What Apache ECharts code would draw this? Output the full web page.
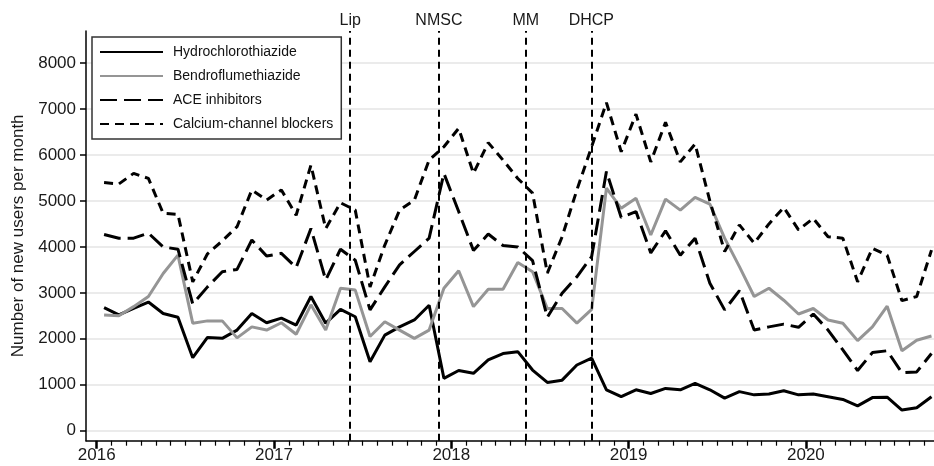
<!DOCTYPE html>
<html>
<head>
<meta charset="utf-8">
<script src="https://cdn.jsdelivr.net/npm/echarts@6/dist/echarts.min.js"></script>
<style>
html,body{margin:0;padding:0;background:#fff;}
#chart{width:934px;height:466px;}
</style>
</head>
<body>
<div id="chart"></div>
<script>
// Monthly data, Jan 2016 .. Sep 2020 (57 months), plotted at mid-month
const startYear = 2016;
const nMonths = 57;
const seriesNames = ['Hydrochlorothiazide', 'Bendroflumethiazide', 'ACE inhibitors', 'Calcium-channel blockers'];
const hctz = [2680,2520,2660,2800,2550,2470,1590,2030,2010,2190,2550,2350,2450,2300,2920,2340,2640,2480,1500,2080,2260,2410,2730,1140,1310,1250,1540,1680,1720,1320,1050,1100,1430,1580,890,740,890,810,920,890,1030,890,710,850,780,800,870,780,800,740,680,540,720,730,450,500,740];
const bftz = [2520,2500,2700,2920,3420,3820,2340,2390,2390,2020,2260,2190,2350,2100,2740,2190,3100,3060,2050,2370,2190,2010,2190,3100,3480,2700,3080,3080,3660,3460,2660,2660,2340,2640,5280,4840,5060,4260,5040,4800,5080,4930,4190,3570,2920,3100,2840,2540,2660,2410,2340,1960,2260,2710,1740,1970,2060];
const ace = [4270,4190,4190,4300,4000,3950,2760,3130,3460,3510,4150,3800,3860,3550,4400,3280,3950,3710,2630,3130,3610,3900,4190,5600,4770,3920,4280,4030,4000,3700,2470,2990,3350,3790,5640,4640,4770,3870,4350,3820,4190,3210,2630,3050,2190,2260,2320,2250,2540,2190,1760,1310,1700,1740,1260,1280,1680];
const ccb = [5400,5370,5600,5490,4730,4710,3240,3850,4130,4440,5240,5020,5240,4690,5780,4400,4960,4800,3130,4040,4800,5020,5890,6180,6580,5600,6270,5890,5490,5170,3430,4220,5240,6180,7140,6070,6890,5850,6710,5850,6240,5000,3900,4480,4080,4500,4860,4370,4620,4220,4190,3240,3970,3820,2830,2920,3930];
const yearTicks = [2016, 2017, 2018, 2019, 2020];
const yTicks = [0, 1000, 2000, 3000, 4000, 5000, 6000, 7000, 8000];
const eventNames = ['Lip', 'NMSC', 'MM', 'DHCP'];
const eventDates = [2017.4286, 2017.9266, 2018.4154, 2018.7914];

const monthX = [];
for (let i = 0; i < nMonths; i++) monthX.push(startYear + (i + 0.5) / 12);
const monthTicks = [];
for (let k = 1; k < 60; k++) if (k % 12 !== 0) monthTicks.push(startYear + k / 12);

const FONT = 'Liberation Sans, Arial, sans-serif';
const xMin = 2015.9397, xMax = 2020.7225;
const colors = ['#000000', '#959595', '#000000', '#000000'];
const dashes = ['solid', 'solid', [17, 7], [9, 6]];
const values = [hctz, bftz, ace, ccb];

const series = seriesNames.map((name, s) => ({
  name: name,
  type: 'line',
  xAxisIndex: 0,
  yAxisIndex: 0,
  symbol: 'none',
  data: monthX.map((x, i) => [x, values[s][i]]),
  lineStyle: { color: colors[s], width: 3, type: dashes[s] },
  itemStyle: { color: colors[s] },
  z: 3 + s
}));
series[0].markLine = {
  silent: true,
  symbol: ['none', 'none'],
  animation: false,
  lineStyle: { color: '#000', width: 2, type: [7, 5] },
  label: { show: true, position: 'end', formatter: '{b}', fontFamily: FONT, fontSize: 16, color: '#1a1a1a', distance: 2 },
  data: eventNames.map((n, i) => ({ name: n, xAxis: eventDates[i] }))
};

const chart = echarts.init(document.getElementById('chart'), null, { renderer: 'canvas' });
chart.setOption({
  animation: false,
  backgroundColor: '#ffffff',
  textStyle: { fontFamily: FONT },
  grid: { left: 86, right: 0, top: 31, bottom: 25.3, containLabel: false },
  legend: {
    orient: 'vertical',
    left: 92, top: 37,
    itemWidth: 63, itemHeight: 14, itemGap: 10,
    padding: [8, 8, 8, 7],
    backgroundColor: '#ffffff',
    borderColor: '#333333', borderWidth: 1.5,
    itemStyle: { opacity: 0 },
    textStyle: { fontFamily: FONT, fontSize: 14, color: '#111', padding: [0, 0, 0, 5] },
    data: seriesNames
  },
  xAxis: [
    {
      type: 'value', min: xMin, max: xMax, position: 'bottom',
      axisLine: { show: true, onZero: false, lineStyle: { color: '#000', width: 1.5 } },
      axisTick: { show: true, customValues: yearTicks, length: 8, lineStyle: { color: '#000', width: 2.5 } },
      axisLabel: { customValues: yearTicks, fontFamily: FONT, fontSize: 17, color: '#1a1a1a', margin: 6, formatter: v => String(Math.round(v)) },
      splitLine: { show: false }
    },
    {
      type: 'value', min: xMin, max: xMax, position: 'bottom',
      axisLine: { show: false, onZero: false },
      axisTick: { show: true, customValues: monthTicks, length: 5, lineStyle: { color: '#000', width: 1.2 } },
      axisLabel: { show: false },
      splitLine: { show: false }
    }
  ],
  yAxis: {
    type: 'value', min: -217.6, max: 8699,
    name: 'Number of new users per month',
    nameLocation: 'middle', nameRotate: 90, nameGap: 57,
    nameTextStyle: { fontFamily: FONT, fontSize: 17, color: '#1a1a1a' },
    axisLine: { show: true, onZero: false, lineStyle: { color: '#000', width: 1.5 } },
    axisTick: { show: true, customValues: yTicks, length: 6, lineStyle: { color: '#000', width: 1.5 } },
    axisLabel: { customValues: yTicks, fontFamily: FONT, fontSize: 17, color: '#1a1a1a', margin: 10, formatter: v => String(Math.round(v)) },
    splitLine: { show: true, lineStyle: { color: '#e4e4e4', width: 1.5 } }
  },
  series: series
});
</script>
</body>
</html>
